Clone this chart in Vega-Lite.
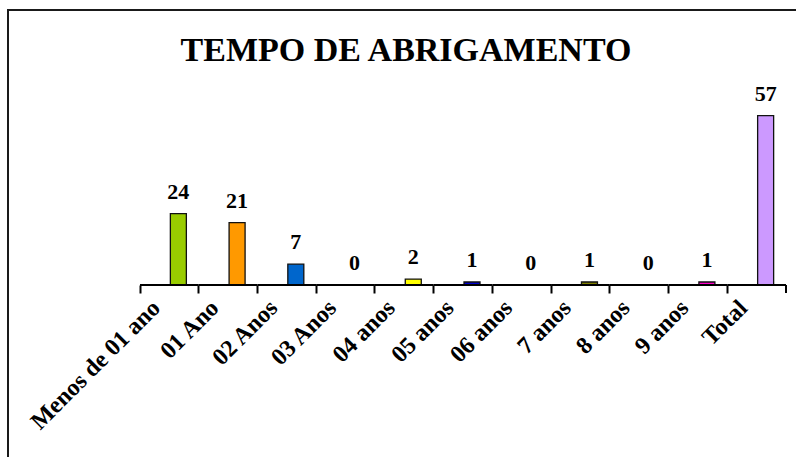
{
  "$schema": "https://vega.github.io/schema/vega-lite/v6.json",
  "autosize": {"type": "none"},
  "padding": {"left": 8, "top": 10, "right": 0, "bottom": 0},
  "width": 800,
  "height": 460,
  "background": "white",
  "config": {
    "view": {"stroke": "#1a1a1a", "strokeWidth": 2, "fill": "white"},
    "font": "Liberation Serif"
  },
  "title": {
    "text": "TEMPO DE ABRIGAMENTO",
    "font": "Liberation Serif",
    "fontSize": 34,
    "fontWeight": "bold",
    "color": "black",
    "anchor": "middle",
    "baseline": "alphabetic",
    "offset": -34,
    "dy": 51,
    "dx": -2
  },
  "data": {
    "values": [
      {"cat": "Menos de 01 ano", "value": 24},
      {"cat": "01 Ano", "value": 21},
      {"cat": "02 Anos", "value": 7},
      {"cat": "03 Anos", "value": 0},
      {"cat": "04 anos", "value": 2},
      {"cat": "05 anos", "value": 1},
      {"cat": "06 anos", "value": 0},
      {"cat": "7 anos", "value": 1},
      {"cat": "8 anos", "value": 0},
      {"cat": "9 anos", "value": 1},
      {"cat": "Total", "value": 57}
    ]
  },
  "encoding": {
    "x": {
      "field": "cat",
      "type": "nominal",
      "sort": null,
      "title": null,
      "scale": {"paddingInner": 0, "paddingOuter": 0, "range": [132, 778]},
      "axis": {
        "orient": "bottom",
        "offset": -185,
        "domain": false,
        "bandPosition": 0,
        "ticks": true,
        "tickSize": 8,
        "tickWidth": 2,
        "tickColor": "black",
        "labelAngle": -45,
        "labelAlign": "right",
        "labelBaseline": "alphabetic",
        "labelOffset": -8,
        "labelPadding": 16,
        "labelFont": "Liberation Serif",
        "labelFontSize": 24,
        "labelFontWeight": "bold",
        "labelColor": "black",
        "labelOverlap": false,
        "grid": false
      }
    }
  },
  "layer": [
    {
      "mark": {"type": "bar", "width": 16, "xOffset": 9, "stroke": "#111111", "strokeWidth": 1.3},
      "encoding": {
        "y": {
          "field": "value",
          "type": "quantitative",
          "scale": {"domain": [-62.3, 92.6], "nice": false, "zero": false},
          "axis": null
        },
        "y2": {"datum": 0},
        "color": {
          "field": "cat",
          "type": "nominal",
          "sort": null,
          "legend": null,
          "scale": {
            "domain": ["Menos de 01 ano", "01 Ano", "02 Anos", "03 Anos", "04 anos", "05 anos", "06 anos", "7 anos", "8 anos", "9 anos", "Total"],
            "range": ["#99CC00", "#FF9900", "#0066CC", "#33CCCC", "#FFFF00", "#0000CC", "#993366", "#808000", "#FF6600", "#FF00CC", "#CC99FF"]
          }
        }
      }
    },
    {
      "mark": {
        "type": "text",
        "xOffset": 9,
        "dy": -15,
        "baseline": "alphabetic",
        "align": "center",
        "font": "Liberation Serif",
        "fontSize": 22,
        "fontWeight": "bold",
        "color": "black"
      },
      "encoding": {
        "y": {"field": "value", "type": "quantitative"},
        "text": {"field": "value", "type": "quantitative"}
      }
    },
    {
      "mark": {"type": "tick", "orient": "horizontal", "size": 58.73, "thickness": 2, "color": "black", "opacity": 1},
      "encoding": {
        "y": {"datum": 0}
      }
    },
    {
      "data": {"values": [{"cat": "Total"}]},
      "mark": {"type": "tick", "orient": "vertical", "size": 8, "thickness": 2, "color": "black", "opacity": 1, "xOffset": 29.36, "yOffset": 4},
      "encoding": {
        "y": {"datum": 0}
      }
    }
  ]
}
